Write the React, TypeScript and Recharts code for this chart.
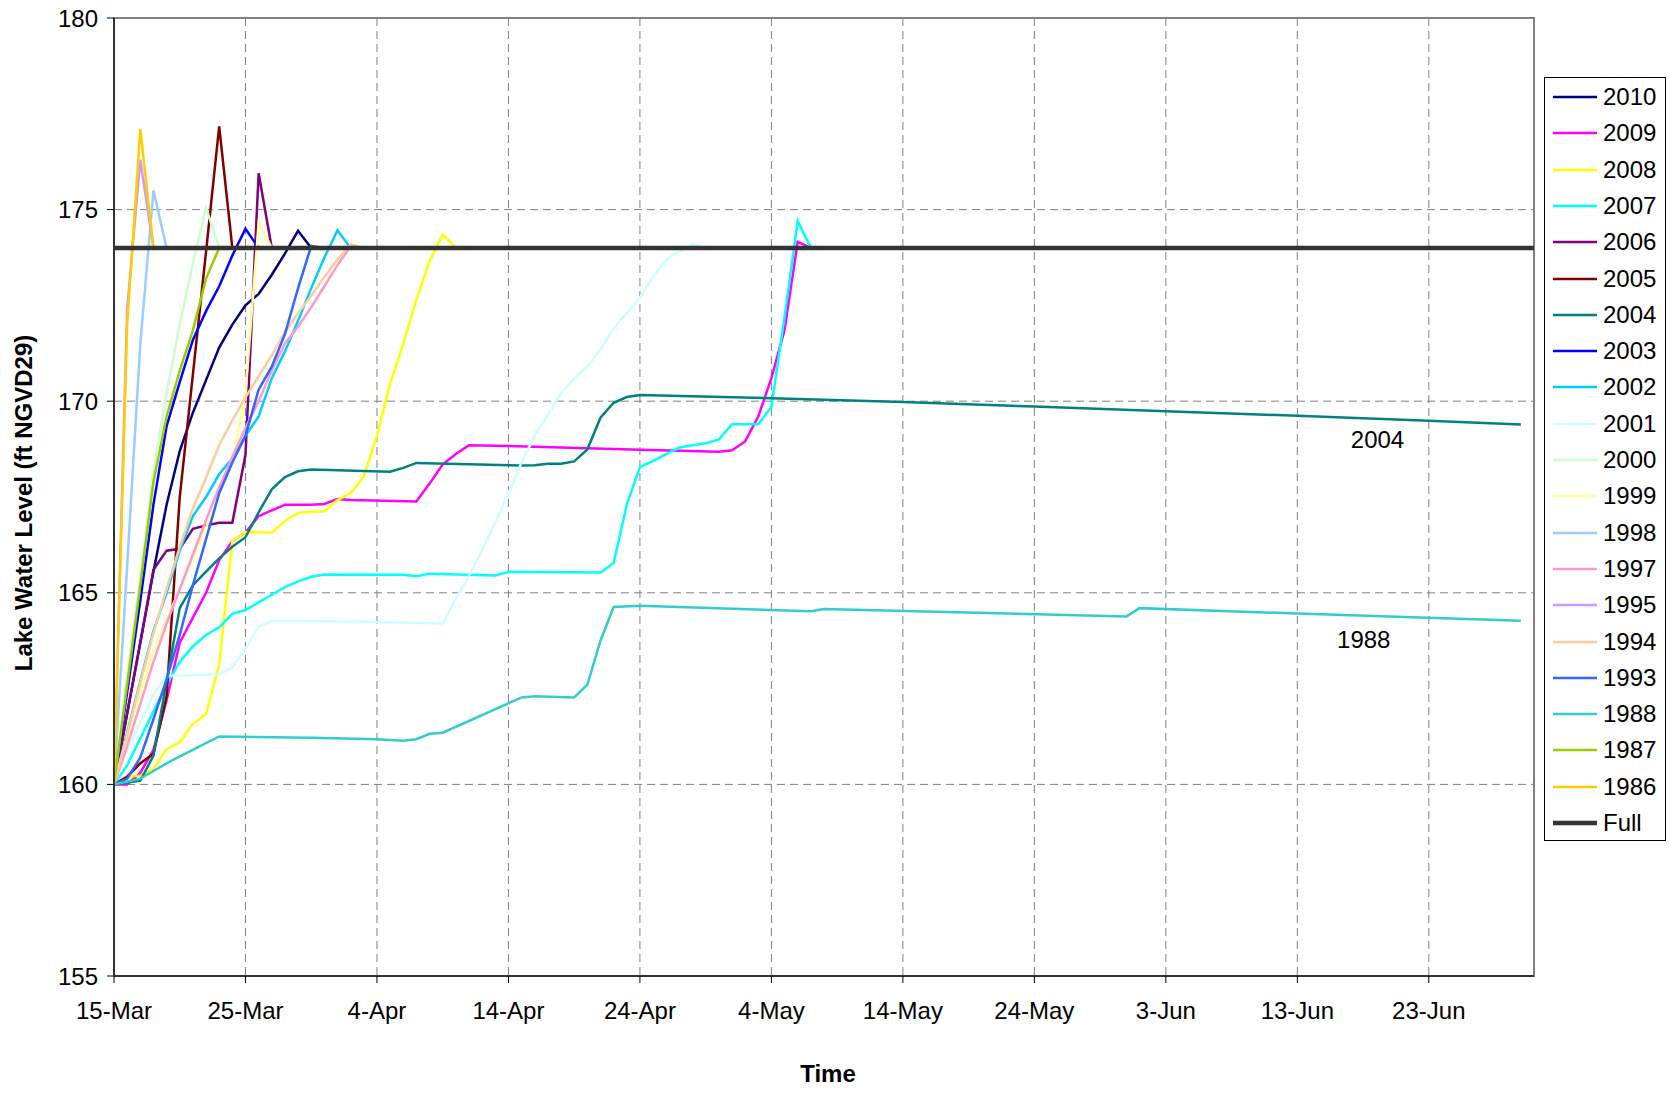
import React from 'react';
import {
  LineChart, Line, XAxis, YAxis, CartesianGrid, Legend, ReferenceArea, ReferenceDot, Label,
} from 'recharts';

type Pt = [number, number];

const FONT = '"Liberation Sans", Arial, sans-serif';

// x axis: days after 15-Mar
const xTicks = [0, 10, 20, 30, 40, 50, 60, 70, 80, 90, 100];
const xTickLabels = ['15-Mar', '25-Mar', '4-Apr', '14-Apr', '24-Apr', '4-May', '14-May', '24-May', '3-Jun', '13-Jun', '23-Jun'];
const yTicks = [155, 160, 165, 170, 175, 180];

const s2010: Pt[] = [[0,160],[1,161.85],[2,163.7],[3,165.55],[4,167.3],[5,168.7],[6,169.7],[7,170.55],[8,171.4],[9,172.0],[10,172.5],[11,172.8],[12,173.3],[13,173.85],[14,174.45],[15,174.0]];
const s2009: Pt[] = [[0,160],[1,160.0],[2,160.3],[3,160.9],[4,162.2],[5,163.7],[6,164.35],[7,165.0],[8,165.85],[9,166.35],[10,166.57],[11,167.0],[12,167.15],[13,167.3],[14,167.3],[15,167.3],[16,167.32],[17,167.45],[18,167.42],[23,167.38],[24,167.85],[25,168.35],[26,168.62],[27,168.85],[30,168.83],[40,168.73],[46,168.68],[47,168.72],[48,168.95],[49,169.6],[50,170.6],[51,171.86],[52,174.16],[53,174.0]];
const s2008: Pt[] = [[0,160],[1,160.22],[2,160.22],[3,160.4],[4,160.92],[5,161.1],[6,161.58],[7,161.83],[8,163.13],[9,166.35],[10,166.58],[11,166.58],[12,166.57],[13,166.87],[14,167.09],[15,167.11],[16,167.13],[17,167.42],[18,167.6],[19,168.03],[20,169.1],[21,170.45],[22,171.5],[23,172.65],[24,173.65],[25,174.35],[26,174.0]];
const s2007: Pt[] = [[0,160],[1,160.5],[2,161.2],[3,161.9],[4,162.6],[5,163.2],[6,163.6],[7,163.9],[8,164.1],[9,164.45],[10,164.55],[11,164.75],[12,164.95],[13,165.15],[14,165.3],[15,165.42],[16,165.48],[22,165.47],[23,165.43],[24,165.5],[29,165.45],[30,165.55],[37,165.53],[38,165.78],[39,167.3],[40,168.28],[41,168.44],[42,168.62],[43,168.79],[44,168.85],[45,168.9],[46,169.0],[47,169.4],[49,169.4],[50,169.85],[51,172.2],[52,174.7],[53,174.0]];
const s2006: Pt[] = [[0,160],[1,161.85],[2,163.7],[3,165.6],[4,166.1],[5,166.15],[6,166.67],[7,166.76],[8,166.83],[9,166.83],[10,168.6],[11,175.95],[12,174.0]];
const s2005: Pt[] = [[0,160],[1,160.2],[2,160.55],[3,160.8],[4,162.3],[5,167.5],[6,170.7],[7,173.9],[8,177.17],[9,174.0]];
const s2004: Pt[] = [[0,160],[1,160.05],[2,160.1],[3,160.75],[4,162.7],[5,164.6],[6,165.2],[7,165.55],[8,165.9],[9,166.2],[10,166.45],[11,167.1],[12,167.7],[13,168.02],[14,168.17],[15,168.22],[21,168.16],[22,168.26],[23,168.39],[31,168.32],[32,168.33],[33,168.37],[34,168.37],[35,168.43],[36,168.74],[37,169.57],[38,169.96],[39,170.11],[40,170.16],[50,170.08],[60,169.98],[70,169.86],[80,169.74],[90,169.62],[100,169.49],[107,169.39]];
const s2003: Pt[] = [[0,160],[1,162.4],[2,164.8],[3,167.3],[4,169.35],[5,170.5],[6,171.6],[7,172.35],[8,173.0],[9,173.8],[10,174.5],[11,174.0]];
const s2002: Pt[] = [[0,160],[1,161.35],[2,162.7],[3,164.0],[4,165.0],[5,166.1],[6,167.0],[7,167.5],[8,168.1],[9,168.5],[10,169.1],[11,169.6],[12,170.6],[13,171.3],[14,172.1],[15,172.95],[16,173.75],[17,174.46],[18,174.0]];
const s2001: Pt[] = [[0,160],[1,160.9],[2,161.6],[3,162.35],[4,162.83],[8,162.87],[9,163.05],[10,163.55],[11,164.12],[12,164.27],[18,164.25],[25,164.2],[26,164.85],[27,165.45],[28,166.1],[29,166.85],[30,167.6],[31,168.4],[32,169.1],[33,169.65],[34,170.2],[35,170.6],[36,170.9],[37,171.35],[38,171.9],[39,172.3],[40,172.7],[41,173.25],[42,173.7],[43,173.92],[44,174.1],[45,174.0]];
const s2000: Pt[] = [[0,160],[1,162.8],[2,165.4],[3,168.2],[4,170.2],[5,172.0],[6,173.6],[7,175.05],[8,174.0]];
const s1999: Pt[] = [[0,160],[1,161.2],[2,162.4],[3,163.5],[4,164.3],[5,165.1],[6,165.9],[7,166.7],[8,167.5],[9,168.4],[10,170.2],[11,174.65],[12,174.0]];
const s1998: Pt[] = [[0,160],[1,165.7],[2,171.5],[3,175.5],[4,174.0]];
const s1997: Pt[] = [[0,160],[1,161.0],[2,162.1],[3,163.2],[4,164.2],[5,165.1],[6,166.0],[7,166.9],[8,167.75],[9,168.55],[10,169.3],[11,170.0],[12,170.8],[13,171.5],[14,171.95],[15,172.45],[16,173.0],[17,173.55],[18,174.05],[19,174.0]];
const s1995: Pt[] = [[0,160],[1,172.4],[2,176.3],[3,174.0]];
const s1994: Pt[] = [[0,160],[1,161.3],[2,162.65],[3,163.95],[4,165.1],[5,166.2],[6,167.2],[7,168.0],[8,168.85],[9,169.5],[10,170.1],[11,170.65],[12,171.2],[13,171.8],[14,172.3],[15,172.75],[16,173.25],[17,173.7],[18,174.1],[19,174.0]];
const s1993: Pt[] = [[0,160],[1,160.15],[2,160.7],[3,161.7],[4,162.75],[5,163.9],[6,165.2],[7,166.4],[8,167.6],[9,168.4],[10,169.1],[11,170.3],[12,170.9],[13,171.75],[14,172.95],[15,174.05],[16,174.0]];
const s1988: Pt[] = [[0,160],[1,160.07],[2,160.15],[3,160.35],[4,160.55],[5,160.73],[6,160.9],[7,161.08],[8,161.25],[15,161.22],[20,161.18],[22,161.14],[23,161.18],[24,161.32],[25,161.35],[31,162.27],[32,162.3],[35,162.27],[36,162.6],[37,163.75],[38,164.63],[40,164.66],[53,164.52],[54,164.58],[77,164.38],[78,164.6],[90,164.46],[107,164.27]];
const s1987: Pt[] = [[0,160],[1,162.6],[2,165.2],[3,167.9],[4,169.6],[5,170.8],[6,171.85],[7,173.2],[8,174.0]];
const s1986: Pt[] = [[0,160],[1,172.0],[2,177.1],[3,174.0]];
const sFull: Pt[] = [[0,174],[108,174]];

const seriesNames = ['2010','2009','2008','2007','2006','2005','2004','2003','2002','2001','2000','1999','1998','1997','1995','1994','1993','1988','1987','1986','Full'];
const seriesColors = ['#000080','#FF00FF','#FFFF00','#00FFFF','#800080','#800000','#008080','#0000FF','#00CCFF','#CCFFFF','#CCFFCC','#FFFF99','#99CCFF','#FF99CC','#CC99FF','#FFCC99','#3366FF','#33CCCC','#99CC00','#FFCC00','#333333'];
const seriesData = [s2010,s2009,s2008,s2007,s2006,s2005,s2004,s2003,s2002,s2001,s2000,s1999,s1998,s1997,s1995,s1994,s1993,s1988,s1987,s1986,sFull];

const series = seriesNames.map((name, i) => ({
  name,
  color: seriesColors[i],
  width: name === 'Full' ? 4.5 : 2.5,
  data: seriesData[i].map(([day, level]) => ({ day, level })),
}));

const LegendBox = () => (
  <div style={{ width: 122, height: 764, border: '1px solid #000', boxSizing: 'border-box', background: '#fff', fontFamily: FONT, fontSize: 24, position: 'relative', color: '#000' }}>
    {series.map((s, i) => (
      <div key={s.name} style={{ position: 'absolute', left: 8, top: 19 + i * 36.3 - 14, height: 28, display: 'flex', alignItems: 'center' }}>
        <svg width={44} height={8} style={{ display: 'block' }}>
          <line x1={0} y1={4} x2={44} y2={4} stroke={s.color} strokeWidth={s.width} />
        </svg>
        <span style={{ marginLeft: 6, lineHeight: '28px' }}>{s.name}</span>
      </div>
    ))}
  </div>
);

const YTitle = (props: any) => {
  const vb = props.viewBox || { x: 0, y: 0, width: 0, height: 0 };
  const cx = vb.x + 23;
  const cy = vb.y + vb.height / 2 + 6;
  return (
    <text x={cx} y={cy} transform={`rotate(-90 ${cx} ${cy})`} textAnchor="middle" dominantBaseline="central"
      fontFamily={FONT} fontSize={24} fontWeight="bold" fill="#000">
      Lake Water Level (ft NGVD29)
    </text>
  );
};

const XTitle = (props: any) => {
  const vb = props.viewBox || { x: 0, y: 0, width: 0, height: 0 };
  const cx = vb.x + vb.width / 2 + 4;
  const cy = vb.y + 97;
  return (
    <text x={cx} y={cy} textAnchor="middle" dominantBaseline="central" fontFamily={FONT} fontSize={24} fontWeight="bold" fill="#000">
      Time
    </text>
  );
};

export default function App() {
  return (
    <div style={{ position: 'absolute', left: 0, top: 0, width: 1669, height: 1094, background: '#fff' }}>
      <LineChart width={1669} height={1094} margin={{ top: 18, right: 135, bottom: 0, left: 0 }}>
        <CartesianGrid stroke="#808080" strokeDasharray="8 5" strokeWidth={1} />
        <ReferenceArea x1={0} x2={108} y1={155} y2={180} fill="none" stroke="#808080" strokeWidth={2} ifOverflow="visible" />
        <XAxis
          dataKey="day" type="number" domain={[0, 108]} ticks={xTicks} allowDataOverflow
          tickFormatter={(v: number) => xTickLabels[xTicks.indexOf(v)] ?? ''}
          height={118} tickSize={7} tickMargin={19}
          tick={{ fontFamily: FONT, fontSize: 24, fill: '#000' }}
          stroke="#333" strokeWidth={2} tickLine={{ stroke: '#000', strokeWidth: 1 }}
          interval={0}
        >
          <Label content={XTitle} />
        </XAxis>
        <YAxis
          type="number" domain={[155, 180]} ticks={yTicks} allowDataOverflow
          width={114} tickSize={7} tickMargin={9}
          tick={{ fontFamily: FONT, fontSize: 24, fill: '#000' }}
          stroke="#333" strokeWidth={2} tickLine={{ stroke: '#000', strokeWidth: 1 }}
          interval={0}
        >
          <Label content={YTitle} />
        </YAxis>
        {series.map((s) => (
          <Line
            key={s.name}
            data={s.data}
            dataKey="level"
            name={s.name}
            type="linear"
            stroke={s.color}
            strokeWidth={s.width}
            dot={false}
            activeDot={false}
            isAnimationActive={false}
          />
        ))}
        <ReferenceDot x={96.1} y={169.0} r={0} fill="none" stroke="none"
          label={{ value: '2004', position: 'center', fontFamily: FONT, fontSize: 24, fill: '#000' }} />
        <ReferenceDot x={95.05} y={163.78} r={0} fill="none" stroke="none"
          label={{ value: '1988', position: 'center', fontFamily: FONT, fontSize: 24, fill: '#000' }} />
        <Legend
          layout="vertical" align="center" verticalAlign="middle"
          content={LegendBox}
          wrapperStyle={{ left: 1544, top: 77, width: 122, height: 764 }}
        />
      </LineChart>
    </div>
  );
}
